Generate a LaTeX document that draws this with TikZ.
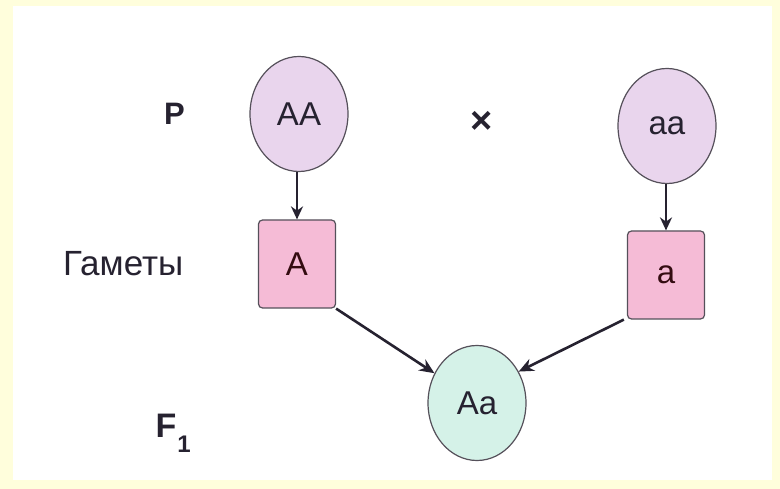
\documentclass[tikz,border=0pt]{standalone}
\usepackage{fontspec}
\setmainfont{Liberation Sans}
\usetikzlibrary{arrows.meta,shapes.geometric}
\definecolor{bgyellow}{HTML}{FFFEDC}
\definecolor{lavender}{HTML}{E9D5ED}
\definecolor{pinkbox}{HTML}{F5BBD6}
\definecolor{mint}{HTML}{D5F2E8}
\definecolor{ink}{HTML}{262230}
\definecolor{edge}{HTML}{55505A}
\begin{document}
\begin{tikzpicture}[x=1pt,y=-1pt,
  parent/.style={ellipse,draw=edge,line width=1.2pt,fill=lavender,minimum width=98pt,minimum height=115pt,inner sep=0pt,font=\fontsize{33}{36}\selectfont,text=ink},
  child/.style={parent,fill=mint},
  gamete/.style={rectangle,rounded corners=4pt,draw=edge,line width=1.2pt,fill=pinkbox,minimum width=77pt,minimum height=88pt,inner sep=0pt,font=\fontsize{33}{36}\selectfont,text=ink!70!red!50!black},
  lbl/.style={inner sep=0pt,anchor=base west,text=ink},
  conn/.style={line width=2.6pt,draw=ink,-{Stealth[length=15pt,width=13pt]}},
  vconn/.style={line width=2pt,draw=ink,-{Stealth[length=13pt,width=12pt]}}]
\useasboundingbox (0,0) rectangle (780,489);
\fill[bgyellow] (0,0) rectangle (780,489);
\fill[white] (13,6) rectangle (772,480);
\node[parent] (AA) at (299,114) {AA};
\node[parent] (aa) at (667,126) {aa};
\node[gamete] (A) at (297,264) {A};
\node[gamete] (a) at (666,275) {a};
\node[child] (Aa) at (477,403) {Aa};
\node[lbl,font=\fontsize{31}{36}\bfseries\selectfont] (P) at (164,125) {P};
\node[inner sep=0pt,text=ink,font=\bfseries\fontsize{38}{40}\selectfont] (x) at (482,122) {×};
\node[lbl,font=\fontsize{35}{40}\selectfont] (gam) at (63,276) {Гаметы};
\node[lbl,font=\bfseries\fontsize{34}{40}\selectfont] (F) at (155.5,437) {F\hspace{1pt}\raisebox{-15pt}{\fontsize{24}{28}\selectfont 1}};
\draw[vconn] (A.north |- AA.south) -- (A.north);
\draw[vconn] (a.north |- aa.south) -- (a.north);
\draw[conn] (A.south east) -- (Aa.145);
\draw[conn] ([xshift=-3pt]a.south west) -- (Aa.37);
\end{tikzpicture}
\end{document}
